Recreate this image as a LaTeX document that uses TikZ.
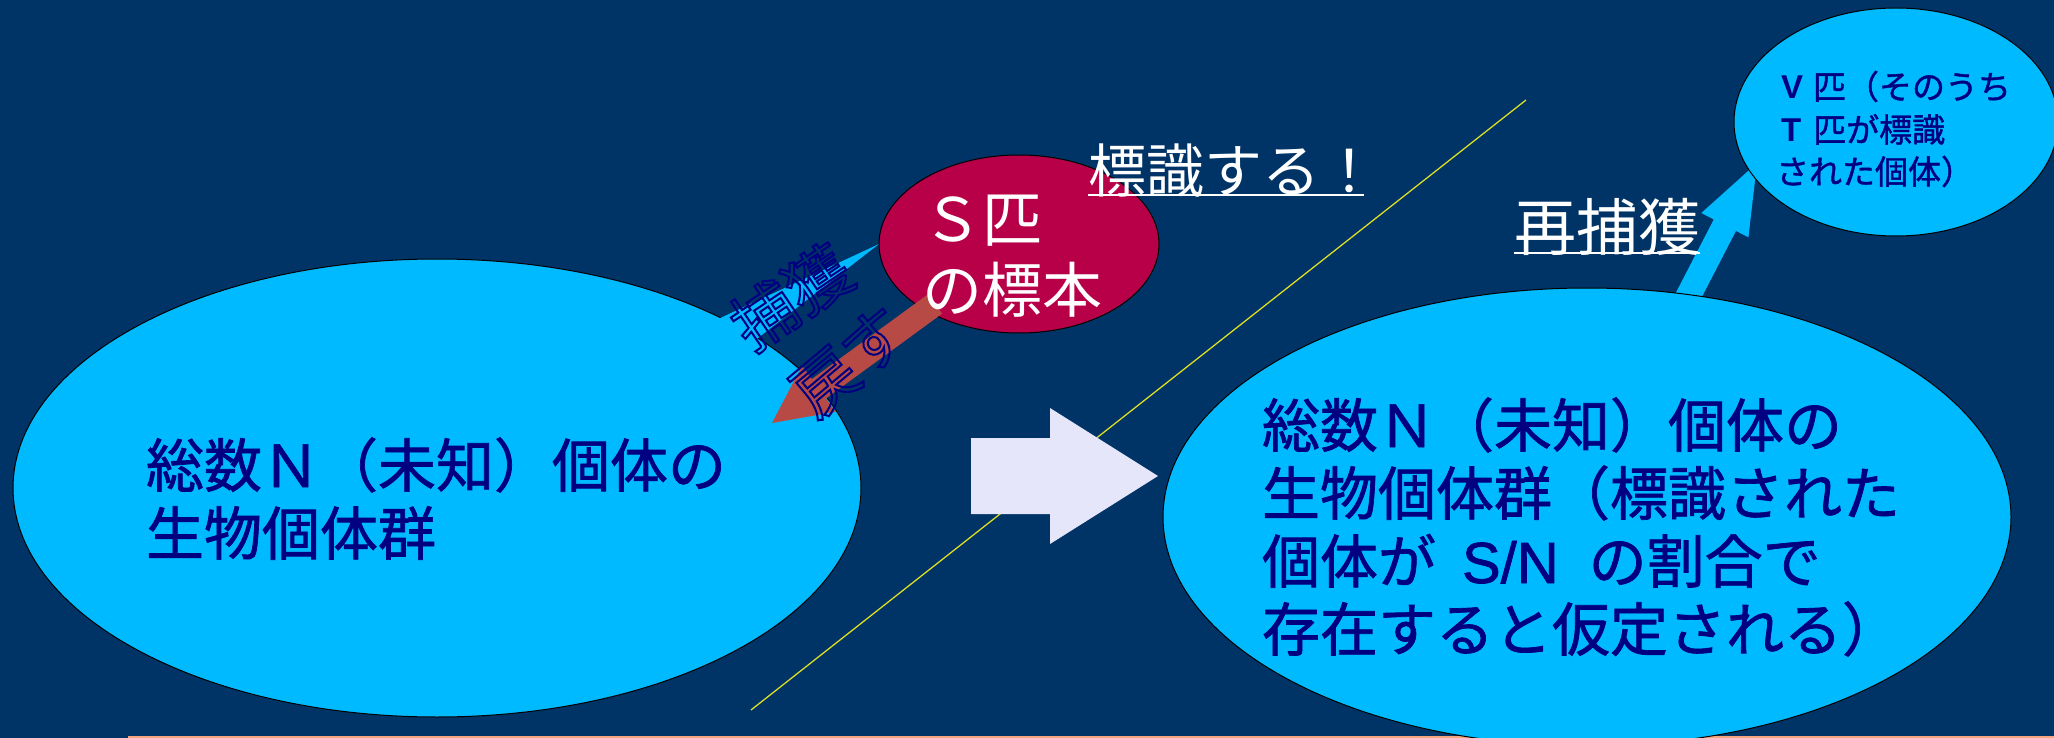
\documentclass[tikz,border=0pt]{standalone}
\usepackage{fontspec}
\usetikzlibrary{shapes.geometric,calc}
\newfontfamily\jp{Noto Sans CJK JP}
\newfontfamily\jpm[FakeBold=1.2]{Noto Sans CJK JP}
\newfontfamily\latb{Liberation Sans}
\newfontfamily\latm[FakeBold=1.2]{Liberation Sans}
\definecolor{bg}{HTML}{003366}
\definecolor{cy}{HTML}{00BAFF}
\definecolor{navy}{HTML}{000080}
\definecolor{crim}{HTML}{B80048}
\definecolor{rust}{HTML}{B84A46}
\definecolor{lav}{HTML}{E6E6FA}
\definecolor{yel}{HTML}{DDDD22}
\definecolor{salmon}{HTML}{F4A580}
\newcommand{\hollowon}{\special{pdf:literal direct 1 Tr 2 w}}
\newcommand{\hollowoff}{\special{pdf:literal direct 0 Tr 1 w}}
\newcommand{\blockarrow}[7]{%
  \coordinate (#1-h) at ($(#3)!#6!(#2)$);
  \path[#7] ($(#2)!#4!90:(#3)$) -- ($(#1-h)!#4!90:(#3)$) -- ($(#1-h)!#5!90:(#3)$) -- (#3)
    -- ($(#1-h)!#5!-90:(#3)$) -- ($(#1-h)!#4!-90:(#3)$) -- ($(#2)!#4!-90:(#3)$) -- cycle;
}
\tikzset{
  ell/.style={ellipse, draw=black, line width=1, inner sep=0, outer sep=0},
  txt/.style={inner sep=0, outer sep=0, anchor=base west},
  big/.style={txt, text=navy, font=\jpm\fontsize{58}{67}\selectfont},
  wbig/.style={txt, text=white, font=\jp\fontsize{58}{67}\selectfont},
  small/.style={txt, text=navy, font=\jpm\fontsize{33}{40}\selectfont},
  hollow/.style={inner sep=0, outer sep=0, text=navy, font=\jp\fontsize{64}{70}\selectfont,
    execute at begin node=\hollowon, execute at end node=\hollowoff},
}
\begin{document}
\begin{tikzpicture}[x=1pt,y=-1pt]
\useasboundingbox (0,0) rectangle (2054,738);
\fill[bg] (0,0) rectangle (2054,738);
% coordinates
\coordinate (lnA) at (751,710);
\coordinate (lnB) at (1526,100);
\coordinate (botA) at (128,737);
\coordinate (botB) at (2054,737);
\draw[yel, line width=1.3] (lnA) -- (lnB);
\draw[salmon, line width=2.5] (botA) -- (botB);
% left population
\node[ell, fill=cy, minimum width=848, minimum height=458] (popL) at (437,488) {};
% sample ellipse (position reference)
\coordinate (sampleW) at (879,244);
% capture wedge
\coordinate (capTail) at (712,346);
\fill[cy] ($(capTail)!22pt!90:(sampleW)$) -- (sampleW) -- ($(capTail)!22pt!-90:(sampleW)$) -- cycle;
\node[ell, fill=crim, minimum width=280, minimum height=178] (sample) at (1019,244) {};
% return arrow
\coordinate (retTail) at (935,304);
\coordinate (retTip) at (772,423);
\blockarrow{ret}{retTail}{retTip}{12pt}{28.5pt}{58pt}{fill=rust}
% recapture arrow
\coordinate (recTail) at (1680,312);
\coordinate (recTip) at (1757,163);
\blockarrow{rec}{recTail}{recTip}{12.5pt}{26.5pt}{70pt}{fill=cy}
% right population
\node[ell, fill=cy, minimum width=848, minimum height=458] (popR) at (1587,517) {};
% recaptured ellipse
\node[ell, fill=cy, minimum width=324, minimum height=228] (recap) at (1896,122) {};
% middle arrow
\coordinate (midA) at (971,476);
\coordinate (midB) at (1158,476);
\blockarrow{mid}{midA}{midB}{38pt}{68pt}{108pt}{fill=lav}
% texts
\node[big] (tL1) at (146,487) {総数Ｎ（未知）個体の};
\node[big] (tL2) at (146,555) {生物個体群};
\node[big] (tR1) at (1262,447) {総数Ｎ（未知）個体の};
\node[big] (tR2) at (1262,515) {生物個体群（標識された};
\node[big] (tR3) at (1262,583) {個体が\hspace{26pt}{\latm S/N}\hspace{30pt}の割合で};
\node[big] (tR4) at (1262,651) {存在すると仮定される）};
\node[txt, text=white, font=\jp\fontsize{60}{70}\selectfont] (tS1) at (922,242) {Ｓ匹};
\node[txt, text=white, font=\jp\fontsize{60}{70}\selectfont] (tS2) at (922,312) {の標本};
\node[small] (tV1) at (1781,99) {{\latb\bfseries V}\hspace{10pt}匹（そのうち};
\node[small] (tV2) at (1781,142) {{\latb\bfseries T}\hspace{12pt}匹が標識};
\node[small] (tV3) at (1776,184) {された個体）};
\node[wbig] (tMark) at (1088,193) {標識する！};
\draw[white, line width=2] ([yshift=-2pt]tMark.base west) -- ([yshift=-2pt,xshift=-14pt]tMark.base east);
\node[txt, text=white, font=\jp\fontsize{62}{70}\selectfont] (tRec) at (1514,251) {再捕獲};
\draw[white, line width=2] ([yshift=-2pt]tRec.base west) -- ([yshift=-2pt]tRec.base east);
\node[hollow, rotate=34] (tCap) at (791,297) {捕獲};
\node[hollow, rotate=40] (tRet) at (850,362) {戻す};
\end{tikzpicture}
\end{document}
